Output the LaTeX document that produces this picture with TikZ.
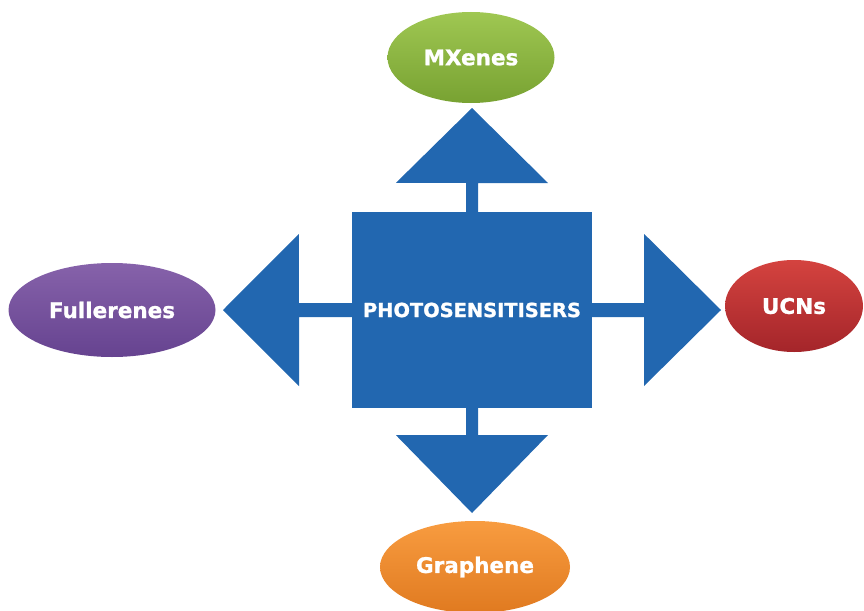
\documentclass[tikz,border=0pt]{standalone}
\usepackage{fontspec}
\setmainfont{DejaVu Sans}
\newfontfamily\lbl[FakeBold=1.2]{DejaVu Sans}
\usetikzlibrary{shapes.geometric}
\definecolor{blockblue}{HTML}{2267B0}
\definecolor{gtop}{HTML}{9FC752}
\definecolor{gbot}{HTML}{78A232}
\definecolor{ptop}{HTML}{8662AA}
\definecolor{pbot}{HTML}{664390}
\definecolor{rtop}{HTML}{D4433F}
\definecolor{rbot}{HTML}{A4252A}
\definecolor{otop}{HTML}{F89C40}
\definecolor{obot}{HTML}{E07A20}
\tikzset{
  ell/.style={ellipse, inner sep=0pt, text=white,
    font=\lbl\bfseries\fontsize{21.5}{24}\selectfont},
  blockarrow/.style={fill=blockblue},
  centerbox/.style={fill=blockblue, inner sep=0pt, text=white,
    font=\lbl\bfseries\fontsize{19.4}{22}\selectfont}
}
\begin{document}
\begin{tikzpicture}[x=1pt,y=-1pt]
\useasboundingbox (0,0) rectangle (864,610);
% central square
\node[centerbox, minimum width=240pt, minimum height=196pt] (sq) at (472,310) {PHOTOSENSITISERS};
% ellipses
\node[ell, top color=gtop, bottom color=gbot, minimum width=167pt, minimum height=91pt] (mx) at (471,57.5) {MXenes};
\node[ell, top color=ptop, bottom color=pbot, minimum width=207pt, minimum height=94pt] (fu) at (112,310) {Fullerenes};
\node[ell, top color=rtop, bottom color=rbot, minimum width=138pt, minimum height=92pt] (uc) at (794,306) {UCNs};
\node[ell, top color=otop, bottom color=obot, minimum width=190pt, minimum height=92pt] (gr) at (475,567) {Graphene};
% arrow tips (named)
\coordinate (tipT) at (472,108);
\coordinate (tipL) at (223,310);
\coordinate (tipR) at (721,310);
\coordinate (tipB) at (472,513);
% block arrows from the square to each ellipse
\fill[blockarrow] ([xshift=-6pt]sq.north) -- ++(0,-29) -- ++(-70,0) -- (tipT)
  -- ++(76,75) -- ++(-70,0) -- ([xshift=6pt]sq.north) -- cycle;
\fill[blockarrow] ([xshift=-6pt]sq.south) -- ++(0,27) -- ++(-70,0) -- (tipB)
  -- ++(76,-78) -- ++(-70,0) -- ([xshift=6pt]sq.south) -- cycle;
\fill[blockarrow] ([yshift=7pt]sq.west) -- ++(-53,0) -- ++(0,-69) -- (tipL)
  -- ++(76,76) -- ++(0,-69) -- ([yshift=-7pt]sq.west) -- cycle;
\fill[blockarrow] ([yshift=7pt]sq.east) -- ++(52,0) -- ++(0,-69) -- (tipR)
  -- ++(-77,76) -- ++(0,-69) -- ([yshift=-7pt]sq.east) -- cycle;
\end{tikzpicture}
\end{document}
